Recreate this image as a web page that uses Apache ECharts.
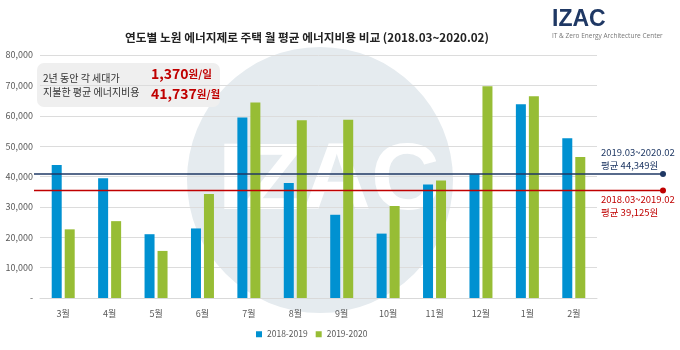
<!DOCTYPE html>
<html><head><meta charset="utf-8">
<script src="https://cdn.jsdelivr.net/npm/echarts@6/dist/echarts.min.js"></script>
<style>html,body{margin:0;padding:0;background:#fff}#c{width:680px;height:350px}</style>
</head><body><div id="c"></div>
<script>
const categories = ['3월','4월','5월','6월','7월','8월','9월','10월','11월','12월','1월','2월'];
const seriesNames = ['2018-2019','2019-2020'];
const values2018 = [43800, 39400, 21000, 22900, 59400, 37900, 27400, 21200, 37400, 40700, 63800, 52600];
const values2019 = [22600, 25300, 15500, 34200, 64400, 58500, 58700, 30300, 38700, 69700, 66400, 46400];
const yTicks = [0, 10000, 20000, 30000, 40000, 50000, 60000, 70000, 80000];
// reference lines: drawn at the positions they appear on the picture
const refLineNavyY = 40800;
const refLineRedY = 35400;
const refLineNavyText = ['2019.03~2020.02', '평균 44,349원'];
const refLineRedText = ['2018.03~2019.02', '평균 39,125원'];
const boxText = ['2년 동안 각 세대가', '지불한 평균 에너지비용'];
const boxValues = [['1,370', '원/일'], ['41,737', '원/월']];
const titleText = '연도별 노원 에너지제로 주택 월 평균 에너지비용 비교 (2018.03~2020.02)';

const FONT = '"Noto Sans CJK KR", "Noto Sans", sans-serif';
const chart = echarts.init(document.getElementById('c'));
const navy = '#1f3864', red = '#c00000';

function refSeries(y, color, texts, pos) {
  return {
    type: 'line', xAxisIndex: 1, yAxisIndex: 1, z: 5,
    lineStyle: { color: color, width: 1.5 },
    itemStyle: { color: color },
    symbol: 'circle', symbolSize: 6, showSymbol: true,
    silent: true,
    data: [
      { value: [0, y], symbol: 'none', label: { show: false } },
      { value: [1, y], label: { show: true, position: pos, align: 'left', verticalAlign: 'top',
          formatter: texts.join('\n'), color: color, fontSize: 9.5, lineHeight: 13, fontFamily: FONT } }
    ]
  };
}
const richNum = { n: { fontSize: 14, fontWeight: 'bold', fill: red, fontFamily: FONT }, u: { fontSize: 10.5, fontWeight: 'bold', fill: red, fontFamily: FONT } };

chart.setOption({
  animation: false,
  textStyle: { fontFamily: FONT },
  title: {
    text: titleText, left: 302, textAlign: 'center', top: 27,
    textStyle: { fontSize: 11.7, fontWeight: 'bold', color: '#222', fontFamily: FONT }
  },
  graphic: [
    { type: 'circle', z: -10, silent: true, shape: { cx: 320, cy: 180, r: 133 }, style: { fill: '#e5ebef' } },
    { type: 'text', z: -9, silent: true, x: 218, y: 135,
      style: { text: 'IZAC', fill: '#ffffff', font: 'bold 95px "Liberation Sans", Arial, sans-serif' } },
    { type: 'text', x: 552, y: 8, style: { text: 'IZAC', fill: navy, font: 'bold 23px "Liberation Sans", Arial, sans-serif' } },
    { type: 'text', x: 552, y: 33, style: { text: 'IT & Zero Energy Architecture Center', fill: '#777', font: '6.5px "Open Sans", sans-serif' } },
    { type: 'rect', x: 37, y: 63, shape: { width: 183, height: 44, r: 7 }, style: { fill: '#efefef' } },
    { type: 'text', x: 43, y: 73, style: { text: boxText[0], fill: '#333', font: '10px ' + FONT } },
    { type: 'text', x: 43, y: 87, style: { text: boxText[1], fill: '#333', font: '10px ' + FONT } },
    { type: 'text', x: 151, y: 67, style: { rich: richNum, text: '{n|' + boxValues[0][0] + '}{u|' + boxValues[0][1] + '}' } },
    { type: 'text', x: 151, y: 87, style: { rich: richNum, text: '{n|' + boxValues[1][0] + '}{u|' + boxValues[1][1] + '}' } }
  ],
  legend: {
    data: seriesNames, top: 325, left: 251, icon: 'rect', itemWidth: 6, itemHeight: 6, itemGap: 8,
    textStyle: { fontSize: 8.5, color: '#595959', fontFamily: FONT }
  },
  grid: [
    { left: 40, right: 83, top: 55, bottom: 52 },
    { left: 34, right: 17, top: 55, bottom: 52 }
  ],
  xAxis: [
    { type: 'category', data: categories, gridIndex: 0,
      axisLine: { lineStyle: { color: '#d9d9d9' } }, axisTick: { show: false },
      axisLabel: { color: '#595959', fontSize: 9, margin: 11, fontFamily: FONT } },
    { type: 'value', gridIndex: 1, min: 0, max: 1, show: false }
  ],
  yAxis: [
    { type: 'value', gridIndex: 0, min: yTicks[0], max: yTicks[yTicks.length - 1], interval: yTicks[1] - yTicks[0],
      axisLine: { show: false }, axisTick: { show: false },
      splitLine: { lineStyle: { color: '#dcdcdc' } },
      axisLabel: { color: '#595959', fontSize: 9, margin: 7, fontFamily: FONT,
        formatter: v => v === 0 ? '-' : v.toLocaleString('en-US') } },
    { type: 'value', gridIndex: 1, min: yTicks[0], max: yTicks[yTicks.length - 1], show: false }
  ],
  series: [
    { name: seriesNames[0], type: 'bar', data: values2018, barWidth: 10, barGap: '30%', itemStyle: { color: '#0091d1' } },
    { name: seriesNames[1], type: 'bar', data: values2019, barWidth: 10, itemStyle: { color: '#97bd35' } },
    refSeries(refLineNavyY, navy, refLineNavyText, [-59, -25]),
    refSeries(refLineRedY, red, refLineRedText, [-59, 5])
  ]
});
</script></body></html>
